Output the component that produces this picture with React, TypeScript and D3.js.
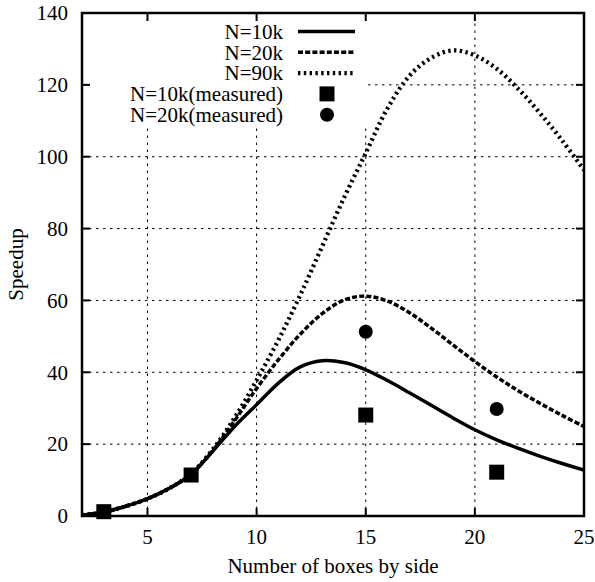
import React from "react"
import * as d3 from "d3"

// model curves
const xs = [2, 3, 4, 5, 6, 7, 8, 9, 10, 11, 12, 13, 14, 15, 16, 17, 18, 19, 20, 21, 22, 23, 24, 25]
const n10k = [0.2, 1.1, 2.7, 4.8, 7.7, 11.6, 18.1, 25, 31, 37, 41.5, 43.2, 42.7, 40.7, 37.7, 34.3, 30.8, 27.3, 24.0, 21.2, 18.8, 16.6, 14.6, 12.8]
const n20k = [0.2, 1.1, 2.7, 4.8, 7.7, 11.7, 18.3, 26.6, 35.5, 43.5, 50.6, 56.3, 60.1, 61.2, 59.8, 56.6, 52.3, 47.6, 43.0, 38.7, 34.8, 31.3, 28.0, 24.9]
const n90k = [0.2, 1.1, 2.7, 4.8, 7.7, 11.8, 18.6, 27.4, 37.8, 49, 61.5, 75, 88.5, 101, 113.5, 122.5, 127.5, 129.6, 128.2, 124.5, 118.8, 112, 104.5, 96.3]

// measured points
const measX = [3, 7, 15, 21]
const meas10k = [1.2, 11.4, 28.1, 12.2]
const meas20k = [1.2, 11.4, 51.3, 29.8]

const xTicks = [5, 10, 15, 20, 25]
const yTicks = [0, 20, 40, 60, 80, 100, 120, 140]
const lineLabels = ["N=10k", "N=20k", "N=90k"]
const pointLabels = ["N=10k(measured)", "N=20k(measured)"]

const W = 595, H = 582
const L = 82, R = 584, T = 13, B = 516
// area the key blanks out of the grid
const keyBox = { x1: L, x2: 368, y1: T, y2: 125 }

const font = "'Liberation Serif', 'Times New Roman', serif"

export default function App() {
  const x = d3.scaleLinear().domain([2, 25]).range([L, R])
  const y = d3.scaleLinear().domain([0, 140]).range([B, T])

  const line = d3
    .line<number>()
    .x((d, i) => x(xs[i]))
    .y((d) => y(d))
    .curve(d3.curveCatmullRom.alpha(0.5))

  const styles = [
    { data: n10k, dash: "none", w: 3.5 },
    { data: n20k, dash: "5,2.2", w: 3.5 },
    { data: n90k, dash: "2.4,3.4", w: 4.3 },
  ]

  const rowY = (i: number) => 31.5 + i * 20.8
  const sampleX1 = 298, sampleX2 = 355, markX = 327
  const sq = 15

  return (
    <div style={{ position: "absolute", left: 0, top: 0 }}>
      <svg width={W} height={H} style={{ display: "block", background: "#fff" }} fontFamily={font}>
        <defs>
          <clipPath id="plot">
            <rect x={L} y={T} width={R - L} height={B - T} />
          </clipPath>
        </defs>

        {/* grid */}
        <g stroke="#000" strokeWidth={1} strokeDasharray="2.5,4.5">
          {xTicks.filter((t) => t < 25).map((t) => {
            const px = x(t)
            const top = px < keyBox.x2 ? keyBox.y2 : T
            return <line key={"gx" + t} x1={px} x2={px} y1={B} y2={top} />
          })}
          {yTicks.filter((t) => t > 0 && t < 140).map((t) => {
            const py = y(t)
            const left = py < keyBox.y2 ? keyBox.x2 : L
            return <line key={"gy" + t} x1={left} x2={R} y1={py} y2={py} />
          })}
        </g>

        {/* curves */}
        <g clipPath="url(#plot)" fill="none" stroke="#000">
          {styles.map((s, i) => (
            <path key={i} d={line(s.data) || ""} strokeWidth={s.w} strokeDasharray={s.dash} strokeLinecap="butt" />
          ))}
        </g>

        {/* measured */}
        <g fill="#000">
          {measX.map((v, i) => (
            <rect key={"s" + i} x={x(v) - sq / 2} y={y(meas10k[i]) - sq / 2} width={sq} height={sq} />
          ))}
          {measX.map((v, i) => (
            <circle key={"c" + i} cx={x(v)} cy={y(meas20k[i])} r={7} />
          ))}
        </g>

        {/* frame and ticks */}
        <g stroke="#000" strokeWidth={2}>
          {xTicks.filter((t) => t < 25).map((t) => (
            <g key={"tx" + t}>
              <line x1={x(t)} x2={x(t)} y1={B} y2={B - 8} />
              <line x1={x(t)} x2={x(t)} y1={T} y2={T + 8} />
            </g>
          ))}
          {yTicks.filter((t) => t > 0 && t < 140).map((t) => (
            <g key={"ty" + t}>
              <line x1={L} x2={L + 8} y1={y(t)} y2={y(t)} />
              <line x1={R} x2={R - 8} y1={y(t)} y2={y(t)} />
            </g>
          ))}
        </g>
        <rect x={L} y={T} width={R - L} height={B - T} fill="none" stroke="#000" strokeWidth={2.5} />

        {/* tick labels */}
        <g fontSize={21} fill="#000">
          {xTicks.map((t) => (
            <text key={"lx" + t} x={x(t)} y={544} textAnchor="middle">{t}</text>
          ))}
          {yTicks.map((t) => (
            <text key={"ly" + t} x={68} y={y(t)} dy="0.35em" textAnchor="end">{t}</text>
          ))}
          <text x={(L + R) / 2} y={573} textAnchor="middle">Number of boxes by side</text>
          <text transform={`translate(23,${(T + B) / 2}) rotate(-90)`} textAnchor="middle">Speedup</text>
        </g>

        {/* key */}
        <g fontSize={21} fill="#000">
          {lineLabels.map((lab, i) => (
            <g key={lab}>
              <text x={283} y={rowY(i)} dy="0.35em" textAnchor="end">{lab}</text>
              <line x1={sampleX1} x2={sampleX2} y1={rowY(i)} y2={rowY(i)} stroke="#000" strokeWidth={styles[i].w}
                strokeDasharray={styles[i].dash} />
            </g>
          ))}
          {pointLabels.map((lab, i) => (
            <text key={lab} x={283} y={rowY(i + 3)} dy="0.35em" textAnchor="end">{lab}</text>
          ))}
          <rect x={markX - sq / 2} y={rowY(3) - sq / 2} width={sq} height={sq} />
          <circle cx={markX} cy={rowY(4)} r={7} />
        </g>
      </svg>
    </div>
  )
}
